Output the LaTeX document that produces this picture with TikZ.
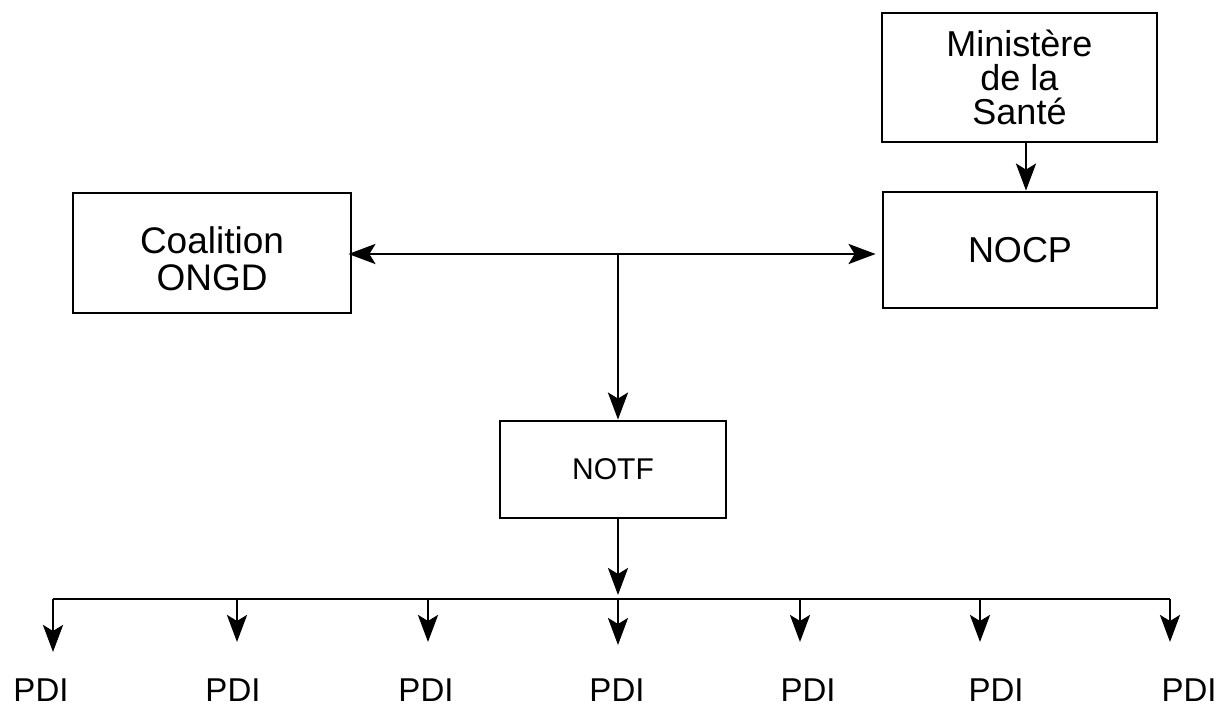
\documentclass[tikz,border=0pt]{standalone}
\usepackage{fontspec}
\setmainfont{Liberation Sans}
\usetikzlibrary{arrows.meta}
\begin{document}
\begin{tikzpicture}[x=0.5pt,y=-0.5pt,
  box/.style={draw,line width=1.4pt,inner sep=0pt,align=center},
  lbl/.style={inner sep=0pt,font=\fontsize{16.5}{18}\selectfont},
  conn/.style={line width=1.4pt},
  arr/.style={conn,-{Stealth[length=13.5pt,width=10pt,inset=3pt]}},
  darr/.style={conn,{Stealth[length=13.5pt,width=10pt,inset=3pt]}-{Stealth[length=13.5pt,width=10pt,inset=3pt]}}
]
\useasboundingbox (0,0) rectangle (1222,710);
\fill[white] (0,0) rectangle (1222,710);

% boxes
\node[box,minimum width=137.5pt,minimum height=64.5pt,
      font=\fontsize{18}{16.8}\selectfont] (ministere) at (1019.5,77.5)
      {Ministère\\de la\\Santé};
\node[box,minimum width=137pt,minimum height=58pt,
      font=\fontsize{18}{20}\selectfont] (nocp) at (1020,250) {NOCP};
\node[box,minimum width=139pt,minimum height=60pt] (coalition) at (212,253) {};
\node[align=center,inner sep=0pt,font=\fontsize{18.5}{18.5}\selectfont]
      (coaltext) at (212,259) {Coalition\\ONGD};
\node[box,minimum width=113pt,minimum height=48.5pt,
      font=\fontsize{15}{17}\selectfont] (notf) at (613,469.5) {NOTF};

% helper coordinates
\coordinate (mx) at (1026,0);
\coordinate (j) at (618,254);
\coordinate (b) at (618,599);

% connectors top
\draw[arr] (mx |- ministere.south) -- (mx |- nocp.north);
\draw[darr,shorten <=-2pt,shorten >=3pt] (j -| coalition.east) -- (j -| nocp.west);
\draw[arr] (j) -- (j |- notf.north);
\draw[arr,shorten >=2pt] (b |- notf.south) -- (b);

% PDI labels
\node[lbl,anchor=base] (p1) at (41,702) {PDI};
\node[lbl,anchor=base] (p2) at (233,702) {PDI};
\node[lbl,anchor=base] (p3) at (426,702) {PDI};
\node[lbl,anchor=base] (p4) at (617,702) {PDI};
\node[lbl,anchor=base] (p5) at (808,702) {PDI};
\node[lbl,anchor=base] (p6) at (996,702) {PDI};
\node[lbl,anchor=base] (p7) at (1189,702) {PDI};

% drop tips
\coordinate (t1) at (53,652);
\coordinate (t2) at (237,642);
\coordinate (t3) at (428,642);
\coordinate (t4) at (618,645);
\coordinate (t5) at (800,642);
\coordinate (t6) at (980,642);
\coordinate (t7) at (1170,642);

% bus
\draw[conn] (t1 |- b) -- (t7 |- b);
\foreach \i in {1,...,7}{
  \draw[arr] (t\i |- b) -- (t\i);
}
\end{tikzpicture}
\end{document}
